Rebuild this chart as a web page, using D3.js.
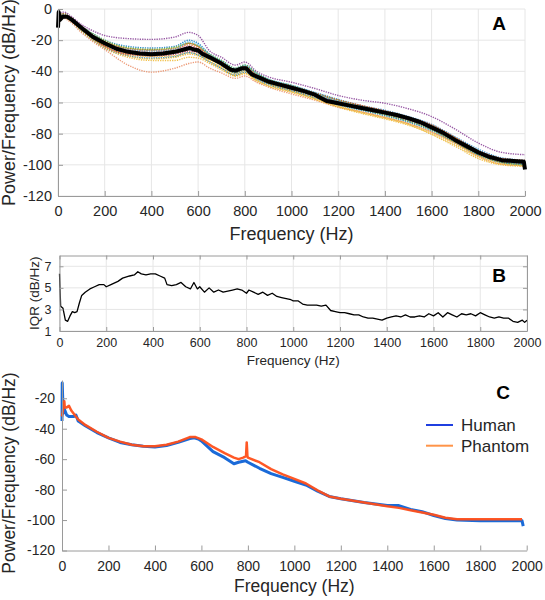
<!DOCTYPE html>
<html>
<head>
<meta charset="utf-8">
<script src="https://cdn.jsdelivr.net/npm/d3@7"></script>
<style>
  html, body { margin: 0; padding: 0; background: #fff; }
  svg { display: block; font-family: "Liberation Sans", Arial, sans-serif; }
</style>
</head>
<body>
<script>
// ---------------- DATA ----------------
const freqTicks = [0, 200, 400, 600, 800, 1000, 1200, 1400, 1600, 1800, 2000];
const yTicksA = [0, -20, -40, -60, -80, -100, -120];
const yTicksB = [1, 3, 5, 7];
const yTicksC = [-20, -40, -60, -80, -100, -120];

// Panel A: individual traces (sampled frequencies)
const freqsA = [0, 25, 50, 100, 150, 200, 300, 400, 500, 560, 600, 650, 700, 760, 800, 850, 900, 1000, 1100, 1200, 1300, 1400, 1500, 1600, 1700, 1800, 1900, 2000];
const traceA1  = [-3, -2, -4, -10, -14, -17, -19, -19.5, -18, -15, -17, -27, -31, -36, -34, -40, -43.5, -47, -51, -55.5, -58.5, -60.5, -64, -69, -77, -86, -92, -93.5];
const traceA2  = [-4, -3, -5, -11, -16, -20, -24, -25, -24, -20, -22, -29, -33, -38, -36, -41, -45, -49, -53.5, -58, -62, -65, -69, -74, -82, -90, -95.5, -97];
const traceA3  = [-5, -4, -6, -12, -17, -21, -26, -27, -26, -23, -25, -30, -34, -39, -37, -42, -45.5, -49.5, -54, -58.5, -62, -65.5, -69.5, -74.5, -82.5, -91, -96, -97];
const traceA4  = [-6, -5, -7, -13, -19, -24, -29, -30.5, -30, -28, -29, -33, -37, -42, -40, -45, -48, -52.5, -57, -62, -66, -69.5, -73.5, -79, -86, -94, -98.5, -99.5];
const traceA5  = [-5, -4, -6, -12, -18, -22, -27, -28, -27, -24, -26, -31, -35, -40, -38, -43, -46.5, -50.5, -55, -59.5, -63, -66.5, -70.5, -75.5, -83.5, -91.5, -96.5, -97.5];
const traceA6  = [-4, -3, -5, -11, -16, -20, -25, -26, -25, -22, -24, -30, -34, -39, -37, -42, -46, -50, -54.5, -59.5, -63, -66.5, -71, -76, -84, -92, -97, -98.5];
const traceA7  = [-5, -4, -6, -12, -18, -23, -28, -29.5, -28.5, -26, -28, -32, -36, -41, -39, -44, -47.5, -51.5, -56, -61, -64.5, -68, -72, -77.5, -85, -93, -98, -100];
const traceA8  = [-6, -5, -7, -13, -19, -23, -27, -28, -27, -24.5, -26, -31, -35, -40, -38, -43, -47, -51, -55.5, -60, -63.5, -67, -71, -76, -84, -92, -97, -98];
const traceA9  = [-6, -5, -7, -14, -20, -25, -30, -31.5, -30.5, -28, -29.5, -34, -38, -42.5, -40.5, -45, -48.5, -52.5, -57, -61.5, -65, -68.5, -72.5, -78, -85.5, -93.5, -98.5, -100];
const traceA10 = [-8, -6, -8, -15, -21, -26, -36, -40.5, -38, -35, -34, -38, -41, -44.5, -43, -47, -50, -54.5, -58.5, -63, -66, -69.5, -73.5, -79, -86, -94.5, -99.5, -100.5];
const traceA11 = [-6, -5, -7, -13, -19, -24, -30, -32, -31, -29, -30, -34, -38, -43, -41, -46, -49.5, -53.5, -58, -63, -67, -70.5, -74.5, -80, -87, -95, -99.5, -100.5];
const traceA12 = [-5, -4, -6, -12, -17, -21, -25, -26, -24.5, -22, -23.5, -29, -33, -38, -36, -41, -45, -49, -54, -58.5, -62.5, -66, -70, -75, -83, -91, -96.5, -97.5];
const traceA13 = [-4, -3, -5, -11, -17, -21, -25.5, -26.5, -25.5, -22, -24, -30, -34, -39, -37, -42, -45.5, -49.5, -54, -58.5, -62, -65.5, -69.5, -74.5, -82.5, -91, -96, -97.5];
const traceA14 = [-5, -4, -6, -12, -18, -22, -26, -27, -26, -21, -23, -29.5, -33.5, -38.5, -36.5, -41.5, -45, -49, -54, -59, -62.5, -66, -70, -75.5, -84, -92.5, -97.5, -99];
const traceA15 = [-5, -4, -6, -13, -19, -24, -29, -30, -29, -27, -28, -32, -36, -41, -39, -44, -47.5, -51.5, -56, -60.5, -64, -67.5, -71.5, -77, -85, -93, -98, -99];
const traceA16 = [-6, -5, -7, -14, -20, -25, -31, -33, -33, -31, -31.5, -35, -39, -43, -41.5, -46, -49, -53, -57.5, -62.5, -66.5, -70, -74, -80.5, -88, -96, -100, -101];
const traceA17 = [-5, -4, -6, -12, -18, -22, -27, -28.5, -27.5, -25, -27, -31.5, -35.5, -40.5, -38.5, -43.5, -47, -51, -55.5, -60, -63.5, -67, -71, -76.5, -84.5, -92.5, -97.5, -99];
const traceA18 = [-5, -4, -6, -13, -19, -23, -28, -29, -28, -25.5, -27.5, -32, -36, -41, -39, -44, -47.5, -51.5, -56, -61, -64.5, -68, -72, -77.5, -85.5, -93.5, -98.5, -100];
const tracesA = [traceA1, traceA2, traceA3, traceA4, traceA5, traceA6, traceA7, traceA8, traceA9, traceA10, traceA11, traceA12, traceA13, traceA14, traceA15, traceA16, traceA17, traceA18];
const traceColorsA = ["#7E2F8E", "#0072BD", "#D95319", "#EDB120", "#7E2F8E", "#77AC30", "#4DBEEE", "#A2142F", "#0072BD", "#E8845A",
                      "#EDB120", "#77AC30", "#D95319", "#4DBEEE", "#A2142F", "#EDB120", "#0072BD", "#77AC30"];

// Panel A: median (black)
const medF = [0, 3, 8, 20, 40, 60, 100, 150, 200, 250, 300, 350, 400, 450, 500, 540, 565, 580, 600, 620, 650, 700, 740, 760, 790, 805, 830, 870, 900, 950, 1000, 1050, 1100, 1150, 1200, 1250, 1300, 1350, 1400, 1450, 1500, 1550, 1600, 1650, 1700, 1750, 1800, 1850, 1900, 1950, 1995, 2000];
const medV = [-12, -2, -7, -5, -5, -7, -12, -18, -22, -25.5, -27.5, -28.5, -29, -28.5, -27.5, -26, -25, -26, -26.5, -29, -31, -35, -39, -39.5, -38, -38, -42, -44.5, -46.5, -48.5, -50.5, -52.5, -55, -59, -60.5, -62, -63.5, -65, -66.5, -68, -70, -72.5, -76, -79.5, -84, -88, -92, -95, -97, -97.5, -98, -103];

// Panel B: IQR
const freqsB = [0, 5, 15, 25, 35, 45, 55, 65, 75, 85, 95, 110, 130, 150, 170, 190, 200, 220, 250, 270, 300, 320, 335, 350, 370, 390, 410, 430, 450, 460, 480, 500, 520, 540, 560, 575, 590, 600, 620, 640, 660, 680, 700, 720, 740, 760, 780, 800, 810, 830, 850, 870, 890, 910, 930, 950, 970, 990, 1000, 1020, 1040, 1060, 1080, 1100, 1120, 1140, 1160, 1180, 1200, 1220, 1240, 1260, 1280, 1300, 1320, 1340, 1360, 1380, 1400, 1420, 1440, 1460, 1480, 1500, 1520, 1540, 1560, 1580, 1600, 1620, 1640, 1660, 1680, 1700, 1720, 1740, 1760, 1780, 1800, 1820, 1840, 1860, 1880, 1900, 1920, 1940, 1960, 1980, 1990, 2000];
const iqrB   = [6.3, 3.3, 3.1, 2.0, 1.9, 2.4, 2.8, 2.7, 2.8, 3.6, 4.3, 4.6, 4.9, 5.1, 5.3, 5.3, 5.1, 5.3, 5.6, 5.9, 6.1, 6.2, 6.5, 6.3, 6.2, 6.3, 6.3, 6.1, 5.9, 5.3, 5.2, 5.3, 5.5, 5.1, 4.9, 5.5, 4.9, 5.1, 4.6, 5.0, 4.6, 4.8, 4.6, 4.7, 4.8, 4.9, 4.8, 4.5, 4.8, 4.6, 4.4, 4.6, 4.3, 4.5, 4.2, 4.1, 4.0, 3.9, 3.8, 3.8, 3.5, 3.4, 3.4, 3.4, 3.3, 3.4, 2.9, 2.8, 2.7, 2.7, 2.6, 2.5, 2.5, 2.3, 2.2, 2.2, 2.1, 2.0, 2.2, 2.3, 2.4, 2.3, 2.5, 2.3, 2.3, 2.4, 2.3, 2.6, 2.4, 2.7, 2.3, 2.7, 2.5, 2.3, 2.6, 2.5, 2.6, 2.4, 2.7, 2.5, 2.3, 2.2, 2.3, 2.2, 2.2, 1.9, 1.8, 2.0, 1.8, 2.0];

// Panel C: Human vs Phantom
const freqsHuman = [0, 1, 5, 10, 20, 30, 40, 50, 60, 70, 100, 150, 200, 250, 300, 350, 400, 450, 500, 550, 570, 590, 600, 650, 700, 740, 760, 790, 800, 850, 900, 950, 1000, 1050, 1100, 1150, 1200, 1300, 1400, 1450, 1500, 1550, 1600, 1650, 1700, 1800, 1900, 1980, 1985];
const human      = [-35, -10, -30, -27, -31, -32, -32, -32, -31, -35, -38, -42.5, -46, -49, -50.5, -51.5, -52, -51, -49, -46.5, -46, -47, -48, -55, -59, -63, -62, -61, -62, -66, -69.5, -72, -74.5, -77, -81, -84.5, -86, -88.5, -90.5, -90.5, -93, -94.5, -97, -99, -100, -100.5, -100.5, -100.5, -104];
const freqsPhantom = [0, 5, 10, 12, 20, 30, 40, 50, 60, 70, 100, 150, 200, 250, 300, 350, 400, 450, 500, 550, 575, 600, 650, 700, 740, 760, 780, 792, 795, 798, 800, 850, 900, 950, 1000, 1050, 1100, 1150, 1200, 1300, 1400, 1450, 1500, 1550, 1600, 1650, 1700, 1800, 1900, 1980];
const phantom      = [-32, -27, -22, -26, -26, -25, -28, -30, -32, -34, -37.5, -42, -46, -48.5, -50.5, -51.5, -51.5, -50.5, -48.5, -45.5, -45.5, -47, -52, -56, -59, -60, -59, -58, -49, -58, -59, -62, -66.5, -70, -73, -76, -80.5, -84.5, -86, -88.5, -91, -92, -93.5, -95, -96.5, -98.5, -99.5, -99.5, -99.5, -99.5];
const seriesNamesC = ["Human", "Phantom"];
const legendColorsC = ["#1f3fe0", "#ff9448"];

// ---------------- DRAW ----------------
const svg = d3.select("body").append("svg").attr("width", 545).attr("height", 600);
const gridColor = "#e6e6e6";
const axisColor = "#9a9a9a";
const textColor = "#262626";

function styleAxis(g, fontSize) {
  g.select(".domain").attr("stroke", axisColor);
  g.selectAll(".tick line").attr("stroke", axisColor);
  g.selectAll(".tick text").attr("fill", textColor).style("font-size", fontSize + "px");
}
const fmt = d => String(d);

// ===== Panel A =====
const xA = d3.scaleLinear().domain([0, 2000]).range([58, 525]);
const yA = d3.scaleLinear().domain([-120, 0]).range([196, 9]);
const gA = svg.append("g");
gA.append("g").selectAll("line").data(freqTicks).join("line")
  .attr("x1", d => xA(d)).attr("x2", d => xA(d)).attr("y1", yA(-120)).attr("y2", yA(0))
  .attr("stroke", gridColor);
gA.append("g").selectAll("line").data(yTicksA).join("line")
  .attr("x1", xA(0)).attr("x2", xA(2000)).attr("y1", d => yA(d)).attr("y2", d => yA(d))
  .attr("stroke", gridColor);
const lineA = d3.line().x((d, i) => xA(freqsA[i])).y(d => yA(d)).curve(d3.curveMonotoneX);
tracesA.forEach((tr, k) => {
  gA.append("path").datum(tr).attr("d", lineA).attr("fill", "none")
    .attr("stroke", traceColorsA[k]).attr("stroke-width", 1.4)
    .attr("stroke-dasharray", "1.3 1.1").attr("opacity", 0.8);
});
const medLine = d3.line().x((d, i) => xA(medF[i])).y(d => yA(d));
gA.append("path").datum(medV).attr("d", medLine).attr("fill", "none")
  .attr("stroke", "#000").attr("stroke-width", 4).attr("stroke-linejoin", "round");
gA.append("g").attr("transform", `translate(0,${yA(-120)})`)
  .call(d3.axisBottom(xA).tickValues(freqTicks).tickFormat(fmt).tickSizeInner(-5).tickSizeOuter(0).tickPadding(10))
  .call(g => styleAxis(g, 14.5));
gA.append("g").attr("transform", `translate(${xA(0)},0)`)
  .call(d3.axisLeft(yA).tickValues(yTicksA).tickFormat(fmt).tickSizeInner(-5).tickSizeOuter(0).tickPadding(6))
  .call(g => styleAxis(g, 14.5));
gA.append("text").attr("x", (xA(0) + xA(2000)) / 2).attr("y", 240).attr("text-anchor", "middle")
  .attr("fill", textColor).style("font-size", "18px").text("Frequency (Hz)");
gA.append("text").attr("transform", `translate(15,${(yA(0) + yA(-120)) / 2}) rotate(-90)`).attr("text-anchor", "middle")
  .attr("fill", textColor).style("font-size", "18px").text("Power/Frequency (dB/Hz)");
gA.append("text").attr("x", 499).attr("y", 30).attr("text-anchor", "middle")
  .attr("font-weight", "bold").style("font-size", "19px").attr("fill", "#000").text("A");

// ===== Panel B =====
const xB = d3.scaleLinear().domain([0, 2000]).range([59.5, 527]);
const yB = d3.scaleLinear().domain([1, 8]).range([331, 255.5]);
const gB = svg.append("g");
gB.append("g").selectAll("line").data(freqTicks).join("line")
  .attr("x1", d => xB(d)).attr("x2", d => xB(d)).attr("y1", yB(1)).attr("y2", yB(8))
  .attr("stroke", gridColor);
gB.append("g").selectAll("line").data(yTicksB).join("line")
  .attr("x1", xB(0)).attr("x2", xB(2000)).attr("y1", d => yB(d)).attr("y2", d => yB(d))
  .attr("stroke", gridColor);
const lineB = d3.line().x((d, i) => xB(freqsB[i])).y(d => yB(d));
gB.append("path").datum(iqrB).attr("d", lineB).attr("fill", "none")
  .attr("stroke", "#000").attr("stroke-width", 1.3).attr("stroke-linejoin", "round");
gB.append("g").attr("transform", `translate(0,${yB(1)})`)
  .call(d3.axisBottom(xB).tickValues(freqTicks).tickFormat(fmt).tickSizeInner(-4).tickSizeOuter(0).tickPadding(7.5))
  .call(g => styleAxis(g, 12.5));
gB.append("g").attr("transform", `translate(${xB(0)},0)`)
  .call(d3.axisLeft(yB).tickValues(yTicksB).tickFormat(fmt).tickSizeInner(-4).tickSizeOuter(0).tickPadding(8))
  .call(g => styleAxis(g, 12.5));
gB.append("g").attr("transform", `translate(0,${yB(8)})`)
  .call(d3.axisTop(xB).tickValues(freqTicks).tickFormat("").tickSizeInner(-4).tickSizeOuter(0))
  .call(g => styleAxis(g, 12.5));
gB.append("g").attr("transform", `translate(${xB(2000)},0)`)
  .call(d3.axisRight(yB).tickValues(yTicksB).tickFormat("").tickSizeInner(-4).tickSizeOuter(0))
  .call(g => styleAxis(g, 12.5));
gB.append("text").attr("x", (xB(0) + xB(2000)) / 2).attr("y", 365).attr("text-anchor", "middle")
  .attr("fill", textColor).style("font-size", "13.5px").text("Frequency (Hz)");
gB.append("text").attr("transform", `translate(38.5,${(yB(1) + yB(8)) / 2}) rotate(-90)`).attr("text-anchor", "middle")
  .attr("fill", textColor).style("font-size", "13.5px").text("IQR (dB/Hz)");
gB.append("text").attr("x", 499).attr("y", 282).attr("text-anchor", "middle")
  .attr("font-weight", "bold").style("font-size", "19px").attr("fill", "#000").text("B");

// ===== Panel C =====
const xC = d3.scaleLinear().domain([0, 2000]).range([62, 526.7]);
const yC = d3.scaleLinear().domain([-120, -8]).range([550.5, 380]);
const gC = svg.append("g");
const lineH = d3.line().x((d, i) => xC(freqsHuman[i])).y(d => yC(d));
const lineP = d3.line().x((d, i) => xC(freqsPhantom[i])).y(d => yC(d));
gC.append("path").datum(human).attr("d", lineH).attr("fill", "none")
  .attr("stroke", "#1a6ad8").attr("stroke-width", 3).attr("stroke-linejoin", "round");
gC.append("path").datum(phantom).attr("d", lineP).attr("fill", "none")
  .attr("stroke", "#ff4f1a").attr("stroke-width", 2.5).attr("stroke-linejoin", "round").attr("opacity", 0.95);
gC.append("g").attr("transform", `translate(0,${yC(-120)})`)
  .call(d3.axisBottom(xC).tickValues(freqTicks).tickFormat(fmt).tickSizeInner(-5).tickSizeOuter(0).tickPadding(11))
  .call(g => styleAxis(g, 14));
gC.append("g").attr("transform", `translate(${xC(0)},0)`)
  .call(d3.axisLeft(yC).tickValues(yTicksC).tickFormat(fmt).tickSizeInner(-5).tickSizeOuter(0).tickPadding(7))
  .call(g => styleAxis(g, 14));
gC.append("text").attr("x", (xC(0) + xC(2000)) / 2).attr("y", 592).attr("text-anchor", "middle")
  .attr("fill", textColor).style("font-size", "17.5px").text("Frequency (Hz)");
gC.append("text").attr("transform", `translate(15,473) rotate(-90)`).attr("text-anchor", "middle")
  .attr("fill", textColor).style("font-size", "17.5px").text("Power/Frequency (dB/Hz)");
gC.append("text").attr("x", 503).attr("y", 398.5).attr("text-anchor", "middle")
  .attr("font-weight", "bold").style("font-size", "19px").attr("fill", "#000").text("C");
const leg = gC.append("g");
seriesNamesC.forEach((name, i) => {
  const y = 425 + i * 20.7;
  leg.append("line").attr("x1", 426).attr("x2", 453).attr("y1", y).attr("y2", y)
    .attr("stroke", legendColorsC[i]).attr("stroke-width", 2);
  leg.append("text").attr("x", 461).attr("y", y).attr("dy", "0.35em")
    .attr("fill", textColor).style("font-size", "17px").text(name);
});
</script>
</body>
</html>
